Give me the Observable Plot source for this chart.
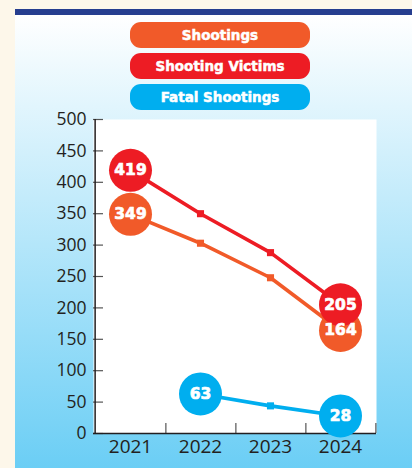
<!DOCTYPE html>
<html><head><meta charset="utf-8">
<script src="https://cdn.jsdelivr.net/npm/d3@7"></script>
<script src="https://cdn.jsdelivr.net/npm/@observablehq/plot@0.6"></script>
<style>
body{margin:0;}
#wrap{position:relative;width:412px;height:468px;background:#FDF7EA;overflow:hidden;font-family:'DejaVu Sans',sans-serif;}
#panel{position:absolute;left:15px;top:9px;right:0;bottom:0;border-top:6px solid #263E8F;background:linear-gradient(#ffffff,#6BCEF5);}
#legend{position:absolute;left:130px;top:22px;width:180px;}
.pill{height:26px;border-radius:11px;color:#fff;font-weight:bold;font-size:13.5px;text-align:center;line-height:26px;margin-bottom:5px;-webkit-text-stroke:0.5px #fff;}
#chart{position:absolute;left:0;top:0;}
</style>
</head><body>
<div id="wrap"><div id="panel"></div><div id="chart"></div><div id="legend"></div></div>
<script>
const years = ["2021", "2022", "2023", "2024"];
const shootings = [349, 303, 248, 164];
const victims = [419, 350, 288, 205];
const fatal = [null, 63, 44, 28];
const seriesNames = ["Shootings", "Shooting Victims", "Fatal Shootings"];
const seriesColors = ["#F15A29", "#ED1C24", "#00AEEF"];
const yTicks = [0, 50, 100, 150, 200, 250, 300, 350, 400, 450, 500];

const seriesValues = [shootings, victims, fatal];
const rows = [];
seriesNames.forEach((name, s) => {
  const pts = years.map((year, i) => ({series: name, year, value: seriesValues[s][i]})).filter(d => d.value != null);
  pts.forEach((d, i) => { d.end = (i === 0 || i === pts.length - 1); rows.push(d); });
});

const legend = document.getElementById("legend");
seriesNames.forEach((name, i) => {
  const p = document.createElement("div");
  p.className = "pill";
  p.style.background = seriesColors[i];
  p.textContent = name;
  legend.appendChild(p);
});

const W = 412, H = 468, mL = 93, mR = 36, mT = 119, mB = 35;
const step = (W - mL - mR) / years.length;

const chart = Plot.plot({
  width: W, height: H,
  marginLeft: mL, marginRight: mR, marginTop: mT, marginBottom: mB,
  style: {background: "transparent", fontFamily: "'Open Sans', sans-serif", color: "#231F20", overflow: "visible"},
  x: {type: "point", domain: years, padding: 0.5},
  y: {domain: [0, 500]},
  color: {domain: seriesNames, range: seriesColors},
  marks: [
    Plot.frame({fill: "white", stroke: "none"}),
    Plot.ruleY(yTicks, {y: d => d, insetRight: W - mL - mR - 10, stroke: "#555", strokeWidth: 1.2}),
    Plot.ruleX(years, {x: d => d, dx: step / 2, insetTop: H - mT - mB - 10, stroke: "#555", strokeWidth: 1.2}),
    Plot.ruleX([years[0]], {x: d => d, dx: -step / 2, stroke: "#231F20", strokeWidth: 1.5}),
    Plot.ruleY([0], {stroke: "#231F20", strokeWidth: 1.5}),
    Plot.axisY({ticks: yTicks, tickSize: 0, tickPadding: 7, fontSize: 17.5, label: null}),
    Plot.axisX({tickSize: 0, tickPadding: 6, fontSize: 19, label: null}),
    Plot.line(rows, {x: "year", y: "value", z: "series", stroke: "series", strokeWidth: 3.6}),
    Plot.dot(rows.filter(d => !d.end), {x: "year", y: "value", fill: "series", symbol: "square", r: 4}),
    Plot.dot(rows.filter(d => d.end), {x: "year", y: "value", fill: "series", r: 21.5}),
    Plot.text(rows.filter(d => d.end), {x: "year", y: "value", text: d => String(d.value), fill: "white", stroke: "white", strokeWidth: 0.7, fontSize: 15.5, fontWeight: "bold", fontFamily: "'DejaVu Sans', sans-serif"})
  ]
});
document.getElementById("chart").appendChild(chart);
</script>
</body></html>
